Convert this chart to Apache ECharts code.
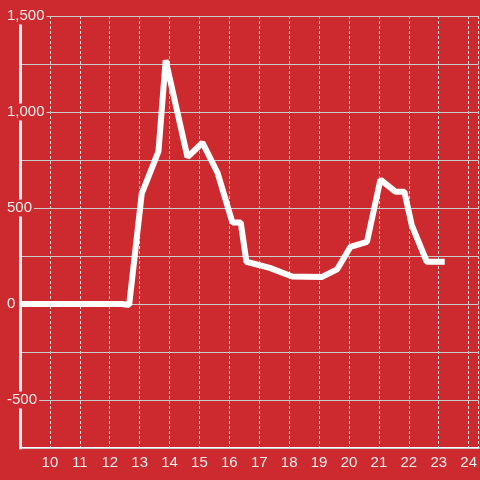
<!DOCTYPE html>
<html>
<head>
<meta charset="utf-8">
<script src="https://cdn.jsdelivr.net/npm/echarts@6/dist/echarts.min.js"></script>
<style>
  html, body { margin: 0; padding: 0; background: #cc2a2f; }
  #chart { width: 480px; height: 480px; }
</style>
</head>
<body>
<div id="chart"></div>
<script>
// hour of day
const hours = [9, 12.4, 12.65, 13.07, 13.63, 13.87, 14.6, 15.1, 15.6, 16.1, 16.38, 16.57,
  17.35, 18.1, 19.1, 19.6, 20.05, 20.6, 21.05, 21.55, 21.85, 22.1, 22.6, 23.2];
const values = [0, 0, -5, 575, 795, 1270, 765, 840, 685, 425, 425, 220,
  188, 143, 141, 180, 298, 323, 648, 585, 585, 410, 220, 220];

const yTicks = [-500, 0, 500, 1000, 1500];
const xTicks = [10, 11, 12, 13, 14, 15, 16, 17, 18, 19, 20, 21, 22, 23, 24];

const red = '#cc2a2f';
const chart = echarts.init(document.getElementById('chart'));
chart.setOption({
  backgroundColor: red,
  animation: false,
  textStyle: { fontFamily: 'Liberation Sans' },
  grid: { left: 20, right: 0, top: 16, bottom: 32 },
  xAxis: [{
    type: 'value',
    min: 9,
    max: 24 + 1 / 3,
    interval: 1,
    axisLine: { show: false },
    axisTick: { show: false },
    axisLabel: {
      color: '#eee',
      fontSize: 15,
      margin: 7,
      showMaxLabel: false,
      formatter: v => xTicks.includes(v) ? String(v) : ''
    },
    splitLine: { show: true, lineStyle: { color: '#ddd', width: 1, type: [3, 2] } }
  }, {
    // zero line
    type: 'value',
    z: 0,
    min: 9,
    max: 24 + 1 / 3,
    position: 'bottom',
    axisLine: { show: true, onZero: true, lineStyle: { color: '#fff', width: 2 } },
    axisTick: { show: false },
    axisLabel: { show: false },
    splitLine: { show: false }
  }],
  yAxis: {
    type: 'value',
    z: 3,
    min: -750,
    max: 1500,
    interval: 250,
    axisLine: { show: true, lineStyle: { color: '#eee', width: 3 } },
    axisTick: { show: false },
    axisLabel: {
      color: '#eee',
      fontSize: 15,
      align: 'left',
      margin: 15,
      backgroundColor: red,
      padding: [1, 2, 1, 2],
      formatter: v => yTicks.includes(v) ? v.toLocaleString('en-US') : ''
    },
    splitLine: { lineStyle: { color: '#ccc', width: 1 } }
  },
  series: [{
    type: 'line',
    z: 4,
    data: hours.map((h, i) => [h, values[i]]),
    showSymbol: false,
    lineStyle: { color: '#fff', width: 6 }
  }]
});
</script>
</body>
</html>
